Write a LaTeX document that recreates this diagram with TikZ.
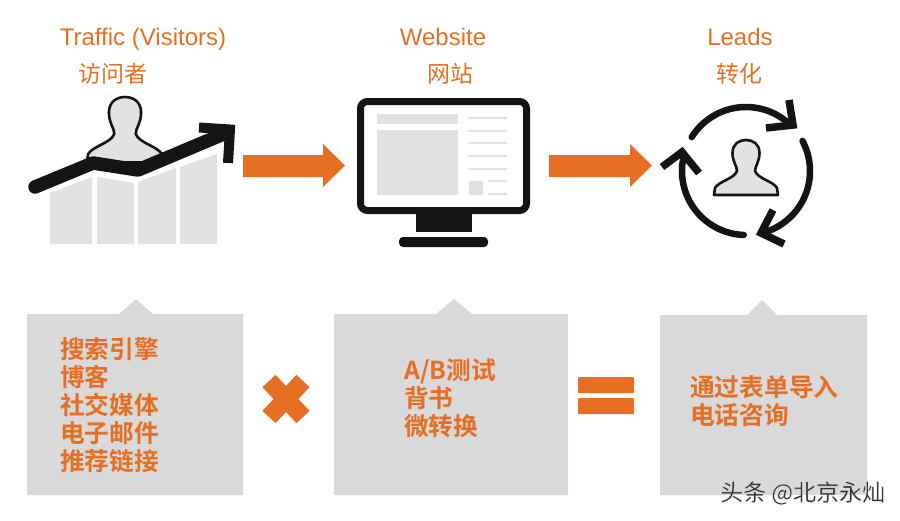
\documentclass[tikz,border=0pt]{standalone}
\usepackage{fontspec}
\setmainfont{Liberation Sans}
\newfontfamily\cjk{Noto Sans CJK SC}
\newfontfamily\cjkbold{Noto Sans CJK SC Bold}
\newfontfamily\markfont[FakeBold=0.35]{Noto Sans CJK SC}
\definecolor{orangeA}{HTML}{E66F24}
\definecolor{boxgray}{HTML}{D9D9D9}
\definecolor{icongray}{HTML}{E1E2E3}
\definecolor{inkblack}{HTML}{141414}
\tikzset{
  heading/.style={text=orangeA, font=\fontsize{24}{26}\selectfont, inner sep=0pt, anchor=base},
  headingcn/.style={heading, font=\fontsize{23}{26}\cjk, anchor=center},
  boxtext/.style={text=orangeA, font=\fontsize{24.7}{28}\cjkbold, align=left, anchor=west, inner sep=0pt},
  inkline/.style={draw=inkblack, line join=miter},
  pics/person/.style={code={
    \draw[inkblack, fill=icongray, line width=2.6pt, line join=round]
      (-32,55) -- (-31,48) .. controls (-27,41) and (-12,39) .. (-9,31)
      .. controls (-9,26) and (-13.5,22) .. (-13.5,13) .. controls (-13.5,4) and (-7,0) .. (0,0)
      .. controls (7,0) and (13.5,4) .. (13.5,13) .. controls (13.5,22) and (9,26) .. (9,31)
      .. controls (12,39) and (27,41) .. (31,48) -- (32,55) -- cycle;
  }}
}
\begin{document}
\begin{tikzpicture}[x=1pt, y=-1pt]
  \useasboundingbox (0,0) rectangle (900,520);

  \node[heading] (traffic) at (143,45) {Traffic (Visitors)};
  \node[headingcn] (trafficcn) at (113,74) {访问者};
  \node[heading] (website) at (443,45) {Website};
  \node[headingcn] (websitecn) at (450,74) {网站};
  \node[heading] (leads) at (740,45) {Leads};
  \node[headingcn] (leadscn) at (739,74) {转化};

  % traffic icon
  \pic[scale=1.19] at (125,97) {person};
  \fill[icongray] (50,193) -- (92,177) -- (92,244) -- (50,244) -- cycle;
  \fill[icongray] (97,177) -- (134,183) -- (134,244) -- (97,244) -- cycle;
  \fill[icongray] (138,182) -- (176,168) -- (176,244) -- (138,244) -- cycle;
  \fill[icongray] (180,167) -- (217,154) -- (217,244) -- (180,244) -- cycle;
  \draw[inkline, line width=13.5pt, line cap=round, line join=round] (35,187) -- (93,163) -- (138,170) -- (226,133);
  \draw[inkline, line width=10pt] (199,127.5) -- (230,129.5) -- (228,163);

  % website icon
  \draw[inkline, line width=7pt, rounded corners=7pt] (360.5,101.5) rectangle (526.5,210.5);
  \fill[inkblack] (416,213) rectangle (472,232);
  \fill[inkblack, rounded corners=4pt] (399,237) rectangle (488,247);
  \fill[icongray] (377,114) rectangle (458,124);
  \fill[icongray] (377,130) rectangle (458,195);
  \fill[icongray] (469,181) rectangle (483,195);
  \foreach \y in {118,131,143,156,169} {
    \draw[icongray, line width=1.6pt] (468,\y) -- (507,\y);
  }
  \foreach \y in {181,194} {
    \draw[icongray, line width=1.6pt] (488,\y) -- (507,\y);
  }

  % leads icon
  \pic at (746,140) {person};
  \draw[inkline, line width=6.5pt, line cap=round, domain=148:48, smooth, variable=\x] plot ({746+64*cos(\x)}, {171-64*sin(\x)});
  \draw[inkline, line width=6.5pt, line cap=round, domain=28:-77, smooth, variable=\x] plot ({746+64*cos(\x)}, {171-64*sin(\x)});
  \draw[inkline, line width=6.5pt, line cap=round, domain=268:166, smooth, variable=\x] plot ({746+64*cos(\x)}, {171-64*sin(\x)});
  \draw[inkline, line width=7.5pt] (789,100) -- (793,125) -- (766,128);
  \draw[inkline, line width=7.5pt] (773,210) -- (761,233) -- (784,244);
  \draw[inkline, line width=7.5pt] (662,167) -- (682,152) -- (699,173);

  % arrows
  \fill[orangeA] (243,155) -- (323,155) -- (323,144) -- (345,165.5) -- (323,187) -- (323,177) -- (243,177) -- cycle;
  \fill[orangeA] (549,155) -- (630,155) -- (630,144) -- (652,165.5) -- (630,187) -- (630,177) -- (549,177) -- cycle;

  % boxes
  \fill[boxgray] (27,314) -- (119,314) -- (136,299) -- (153,314) -- (243,314) -- (243,495) -- (27,495) -- cycle;
  \fill[boxgray] (334,314) -- (436,314) -- (454,299) -- (472,314) -- (568,314) -- (568,495) -- (334,495) -- cycle;
  \fill[boxgray] (660,315) -- (747,315) -- (762,300) -- (777,315) -- (867,315) -- (867,495) -- (660,495) -- cycle;

  \node[boxtext] (channels) at (60,405) {搜索引擎\\博客\\社交媒体\\电子邮件\\推荐链接};
  \node[boxtext] (tests) at (404,398) {A/B测试\\背书\\微转换};
  \node[boxtext] (capture) at (690,401) {通过表单导入\\电话咨询};

  % times and equals
  \draw[orangeA, line width=18pt] (269,381) -- (303,417);
  \draw[orangeA, line width=18pt] (303,381) -- (269,417);
  \fill[orangeA, rounded corners=1pt] (578,377) rectangle (634,393);
  \fill[orangeA, rounded corners=1pt] (578,398) rectangle (634,414);

  \node[font=\fontsize{23}{26}\markfont, anchor=west, inner sep=0pt] (mark) at (720,493) {\special{pdf:bcolor [0.2 0.2 0.2] [1 1 1]}头条 @北京永灿\special{pdf:ecolor}};
\end{tikzpicture}
\end{document}
